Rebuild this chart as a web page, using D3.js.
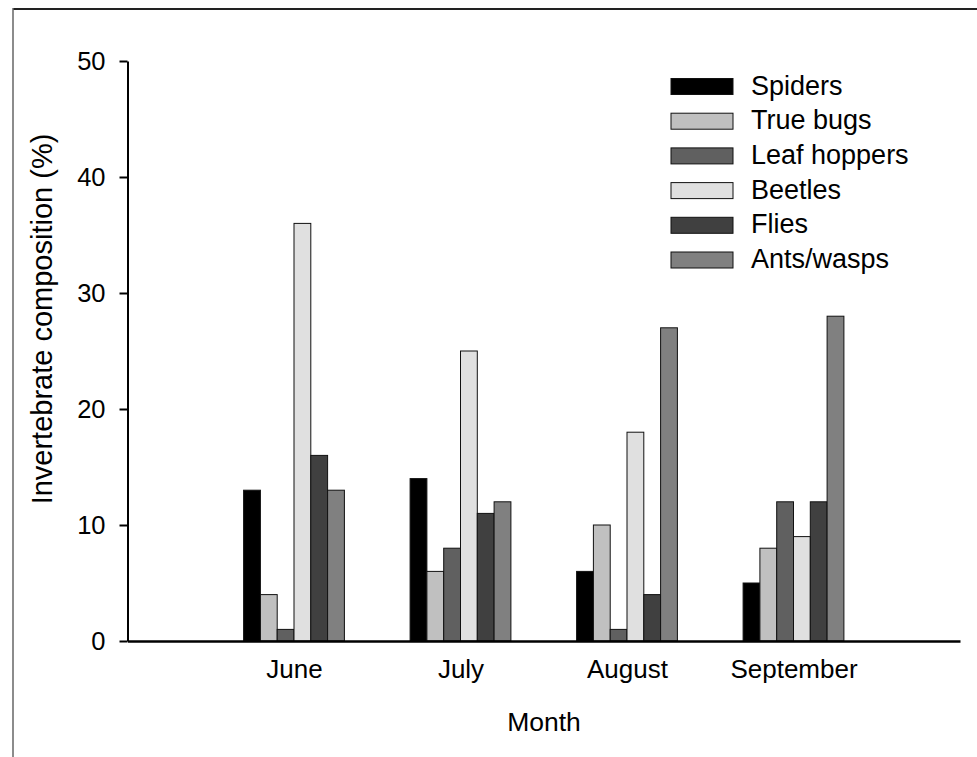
<!DOCTYPE html>
<html>
<head>
<meta charset="utf-8">
<script src="https://cdn.jsdelivr.net/npm/d3@7/dist/d3.min.js"></script>
<style>
  html, body { margin: 0; padding: 0; background: #fff; }
  svg { display: block; font-family: "Liberation Sans", Arial, sans-serif; }
</style>
</head>
<body>
<svg id="chart" width="977" height="757"></svg>
<script>
// Invertebrate composition (%) by month and taxon
const months = ["June", "July", "August", "September"];
const taxa = ["Spiders", "True bugs", "Leaf hoppers", "Beetles", "Flies", "Ants/wasps"];
const taxonColors = ["#000000", "#c0c0c0", "#606060", "#e0e0e0", "#404040", "#808080"];
const spiders    = [13, 14, 6, 5];
const trueBugs   = [4, 6, 10, 8];
const leafHoppers = [1, 8, 1, 12];
const beetles    = [36, 25, 18, 9];
const flies      = [16, 11, 4, 12];
const antsWasps  = [13, 12, 27, 28];
const yTicks = [0, 10, 20, 30, 40, 50];

const series = [spiders, trueBugs, leafHoppers, beetles, flies, antsWasps];

const svg = d3.select("#chart");

// Outer frame (top and left edges)
svg.append("line").attr("x1", 13).attr("x2", 977).attr("y1", 9).attr("y2", 9)
  .attr("stroke", "#222").attr("stroke-width", 2);
svg.append("line").attr("x1", 13).attr("x2", 13).attr("y1", 8).attr("y2", 757)
  .attr("stroke", "#666").attr("stroke-width", 1.5);

const y = d3.scaleLinear().domain([0, 50]).range([641, 61]);
// Month positions on a continuous scale: slots 1..4 inside 0..5
const x = d3.scaleLinear().domain([0, months.length + 1]).range([127.5, 960]);
const barW = 16.8;
const inner = d3.scaleBand().domain(taxa).range([-barW * 3, barW * 3]).padding(0);

// Bars
const groups = svg.append("g").selectAll("g")
  .data(months)
  .join("g")
  .attr("transform", (d, i) => `translate(${x(i + 1)},0)`);

groups.selectAll("rect")
  .data((m, i) => taxa.map((t, k) => ({ taxon: t, k, value: series[k][i] })))
  .join("rect")
  .attr("x", d => inner(d.taxon))
  .attr("width", inner.bandwidth())
  .attr("y", d => y(d.value))
  .attr("height", d => y(0) - y(d.value))
  .attr("fill", d => taxonColors[d.k])
  .attr("stroke", "#111")
  .attr("stroke-width", 1);

// Y axis
const yAxis = svg.append("g")
  .attr("transform", "translate(127.5,0)")
  .call(d3.axisLeft(y).tickValues(yTicks).tickSize(8).tickPadding(14).tickSizeOuter(0));
yAxis.select(".domain").attr("stroke", "#000").attr("stroke-width", 2);
yAxis.selectAll(".tick line").attr("stroke", "#000").attr("stroke-width", 2);
yAxis.selectAll(".tick text")
  .attr("font-size", 25.5).attr("fill", "#000")
  .attr("font-family", "Liberation Sans, Arial, sans-serif");

// X axis line with month labels
const xAxis = svg.append("g")
  .attr("transform", `translate(0,${y(0)})`)
  .call(d3.axisBottom(x).tickValues(d3.range(1, months.length + 1))
    .tickFormat(i => months[i - 1]).tickSize(0).tickPadding(19).tickSizeOuter(0));
xAxis.select(".domain").attr("stroke", "#000").attr("stroke-width", 2.5);
xAxis.selectAll(".tick text")
  .attr("font-size", 26).attr("fill", "#000")
  .attr("font-family", "Liberation Sans, Arial, sans-serif");

// Axis titles
svg.append("text")
  .attr("x", 544).attr("y", 731)
  .attr("text-anchor", "middle")
  .attr("font-size", 26.5)
  .text("Month");

svg.append("text")
  .attr("transform", "translate(52,319) rotate(-90)")
  .attr("text-anchor", "middle")
  .attr("font-size", 29)
  .text("Invertebrate composition (%)");

// Legend
const legend = svg.append("g").selectAll("g")
  .data(taxa)
  .join("g")
  .attr("transform", (d, i) => `translate(671,${78.5 + i * 34.7})`);
legend.append("rect")
  .attr("width", 62).attr("height", 16)
  .attr("fill", (d, i) => taxonColors[i])
  .attr("stroke", "#111").attr("stroke-width", 1);
legend.append("text")
  .attr("x", 80).attr("y", 16)
  .attr("font-size", 27)
  .text(d => d);
</script>
</body>
</html>
